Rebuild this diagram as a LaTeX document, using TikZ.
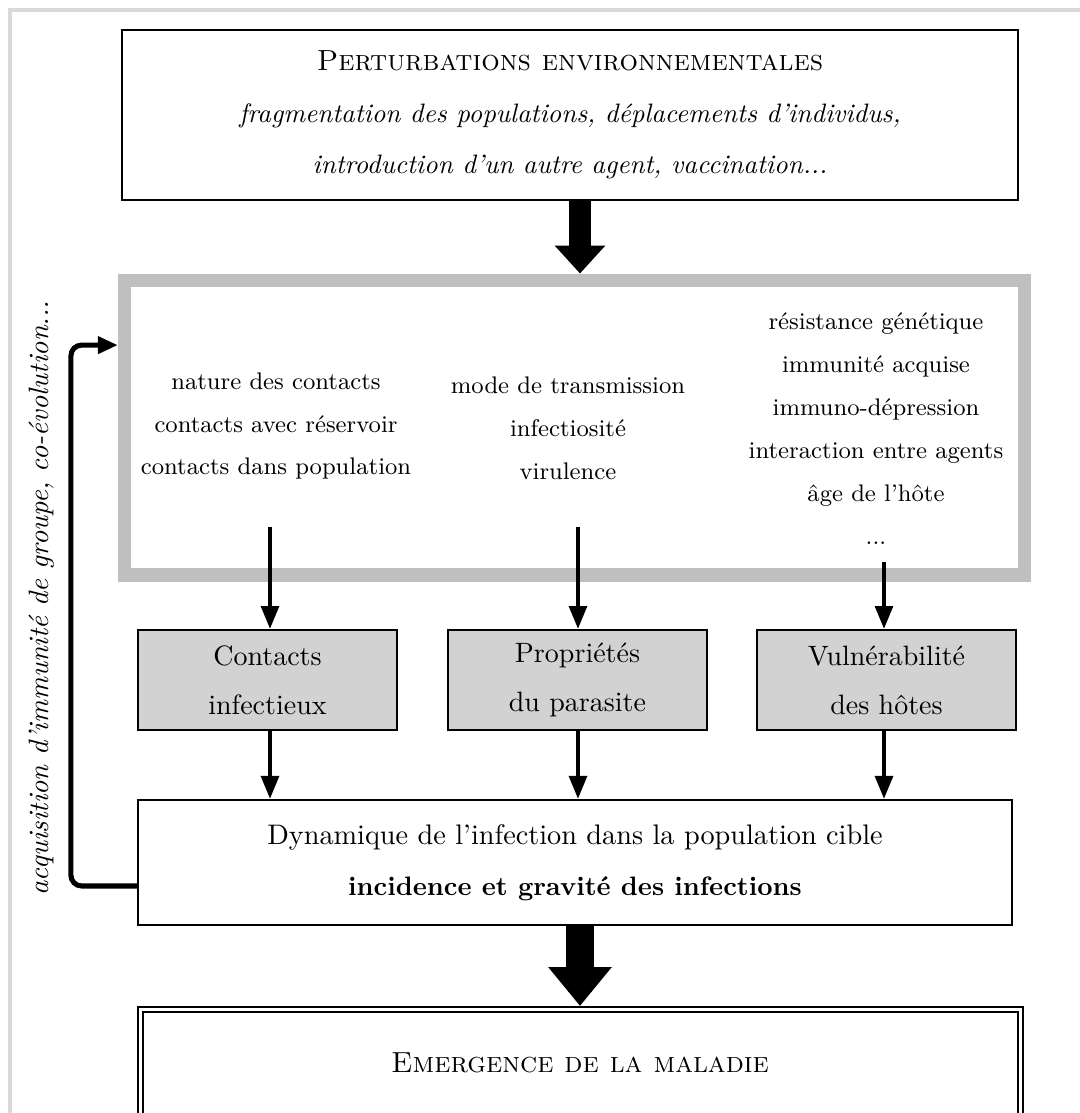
\documentclass[tikz,border=0pt]{standalone}
\usepackage{fontspec}
\usepackage{tikz}
\usetikzlibrary{arrows.meta,positioning}

\begin{document}
\begin{tikzpicture}[x=0.375pt,y=-0.375pt,
    plainbox/.style={draw,line width=0.8pt,align=center,inner sep=0pt},
    factorbox/.style={draw=gray!50,line width=4.9pt,inner sep=0pt},
    listtext/.style={align=center,font=\small},
    subbox/.style={draw,fill=gray!35,line width=0.8pt,align=center,inner sep=0pt,
        minimum width=97.1pt,minimum height=37.5pt,font=\fontsize{10.5}{12.6}\selectfont},
    titletext/.style={font=\fontsize{10.9}{13}\selectfont\scshape},
    thinarrow/.style={line width=1.5pt,-{Triangle[length=8.6pt,width=6.6pt]}},
    bigarrow/.style={line width=8.3pt,-{Triangle[length=10.5pt,width=18.4pt]}},
    widearrow/.style={line width=10.5pt,-{Triangle[length=14.6pt,width=22.9pt]}}]

    % Frame of the page
    \useasboundingbox (0,0) rectangle (1080,1113);
    \draw[gray!30,line width=1.5pt] (10,1113) -- (10,10) -- (1080,10);

    % Top box
    \node[plainbox,minimum width=336pt,minimum height=63.75pt] (perturb) at (570,115)
        {{\fontsize{10.9}{13}\selectfont\textsc{Perturbations environnementales}}\\[7.3pt]
         \textit{fragmentation des populations, déplacements d'individus,}\\[7.3pt]
         \textit{introduction d'un autre agent, vaccination...}};

    % Factors
    \node[factorbox,minimum width=337.5pt,minimum height=110.6pt] (factors) at (574.5,427.5) {};
    \node[listtext] (contacttxt) at (276,426)
        {nature des contacts\\[5.1pt] contacts avec réservoir\\[5.1pt] contacts dans population};
    \node[listtext] (parasitetxt) at (568,428.5)
        {mode de transmission\\[5.1pt] infectiosité\\[5.1pt] virulence};
    \node[listtext] (hotetxt) at (876,428.5)
        {résistance génétique\\[5.1pt] immunité acquise\\[5.1pt] immuno-dépression\\[5.1pt]
         interaction entre agents\\[5.1pt] âge de l'hôte\\[5.1pt] ...};

    % Gray boxes
    \node[subbox] (contacts) at (267.5,680) {Contacts\\[5.8pt] infectieux};
    \node[subbox] (parasite) at (577.5,680) {Propriétés\\[5.8pt] du parasite};
    \node[subbox] (hotes) at (886.5,680) {Vulnérabilité\\[5.8pt] des hôtes};

    % Dynamics
    \node[plainbox,minimum width=327.75pt,minimum height=46.9pt] (dynamique) at (575,862.5)
        {{\fontsize{10.6}{12.7}\selectfont Dynamique de l'infection dans la population cible}\\[7.3pt]
         \textbf{incidence et gravité des infections}};

    % Emergence
    \begin{scope}
        \clip (0,0) rectangle (1080,1113);
        \draw[double,line width=0.7pt,double distance=1.4pt] (140.5,1009.5) rectangle (1020.5,1160);
    \end{scope}
    \coordinate (emergtop) at (580,1006);
    \node[titletext] (emergence) at (580,1063) {Emergence de la maladie};

    % Arrows
    \coordinate (contactsrc) at (270,527);
    \coordinate (parasitesrc) at (578,527);
    \coordinate (hotesrc) at (884,562);
    \draw[bigarrow] (perturb.south -| emergtop) -- (factors.north -| emergtop);
    \draw[thinarrow] (contactsrc) -- (contactsrc |- contacts.north);
    \draw[thinarrow] (parasitesrc) -- (parasitesrc |- parasite.north);
    \draw[thinarrow] (hotesrc) -- (hotesrc |- hotes.north);
    \draw[thinarrow] (contactsrc |- contacts.south) -- (contactsrc |- dynamique.north);
    \draw[thinarrow] (parasitesrc |- parasite.south) -- (parasitesrc |- dynamique.north);
    \draw[thinarrow] (hotesrc |- hotes.south) -- (hotesrc |- dynamique.north);
    \draw[widearrow] (dynamique.south -| emergtop) -- (emergtop);

    % Feedback
    \draw[line width=1.9pt,rounded corners=4pt,-{Triangle[length=7.5pt,width=6.2pt]}]
        ([yshift=-8.8pt]dynamique.west) -- ++(-66,0) |- ([yshift=30.9pt]factors.west);
    \node[rotate=90,font=\fontsize{10.5}{12.6}\selectfont\itshape] (feedbacklabel) at (42,598)
        {acquisition d'immunité de groupe, co-évolution...};
\end{tikzpicture}
\end{document}
